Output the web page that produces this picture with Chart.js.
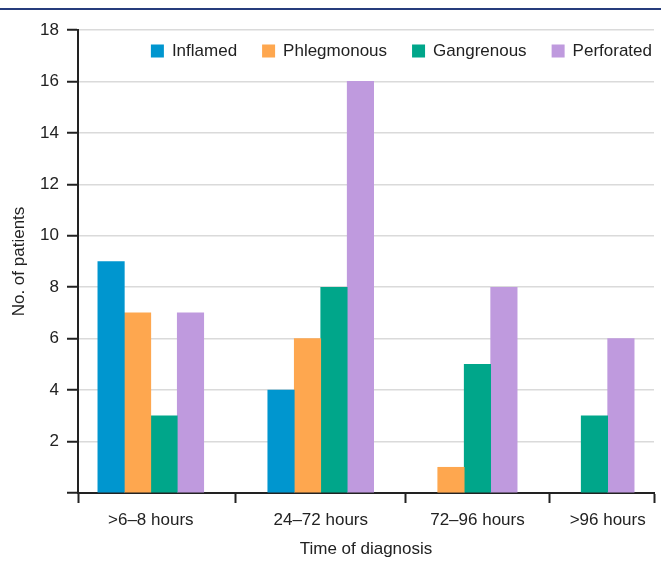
<!DOCTYPE html>
<html>
<head>
<meta charset="utf-8">
<script src="https://cdn.jsdelivr.net/npm/chart.js@4.4.1/dist/chart.umd.min.js"></script>
<style>
  body { margin: 0; background: #fff; }
  #wrap { position: relative; width: 661px; height: 561px; }
  #rule { position: absolute; left: 0; top: 8px; width: 661px; height: 2px; background: #263c7c; }
</style>
</head>
<body>
<div id="wrap">
  <canvas id="patientsChart" width="661" height="561"></canvas>
  <div id="rule"></div>
</div>
<script>
// Chart data
const categories = ['>6–8 hours', '24–72 hours', '72–96 hours', '>96 hours'];
const seriesNames = ['Inflamed', 'Phlegmonous', 'Gangrenous', 'Perforated'];
const inflamed = [9, 4, null, null];
const phlegmonous = [7, 6, 1, null];
const gangrenous = [3, 8, 5, 3];
const perforated = [7, 16, 8, 6];
const yTicks = [0, 2, 4, 6, 8, 10, 12, 14, 16, 18];

const colors = ['#0096cf', '#fea74f', '#00a68a', '#bf9ade'];
const textColor = '#222';

Chart.defaults.font.family = '"Liberation Sans", Arial, sans-serif';
Chart.defaults.font.size = 17;
Chart.defaults.color = textColor;

// Groups only take room for the bars they have (empty bars are skipped),
// so work out category centres and boundaries in "bar width" units
const series = [inflamed, phlegmonous, gangrenous, perforated];
const barCounts = categories.map((c, i) => series.filter(s => s[i] !== null).length);
const EDGE = 0.75;
const GAP = 2.42;
const centers = [];
const bounds = [0];
let pos = EDGE;
barCounts.forEach((n, i) => {
    centers.push(pos + n / 2);
    pos += n;
    if (i < barCounts.length - 1) {
        bounds.push(pos + GAP / 2);
        pos += GAP;
    }
});
pos += EDGE;
bounds.push(pos);

// boundary, centre, boundary, centre ... boundary
const xTicks = [];
bounds.forEach((b, i) => {
    xTicks.push(b);
    if (i < centers.length) xTicks.push(centers[i]);
});

const plotWidth = 661 - 78 - 7;
const barWidth = plotWidth / pos;

const datasets = series.map((values, k) => ({
    label: seriesNames[k],
    data: values.map((v, i) => ({ x: centers[i], y: v })),
    backgroundColor: colors[k],
    borderWidth: 0,
    barThickness: barWidth,
    skipNull: true
}));

// Legend sits inside the plot, top right
const insideLegend = {
    id: 'insideLegend',
    afterDraw(chart) {
        const { ctx, chartArea } = chart;
        const box = 13, gap = 8, pad = 25;
        ctx.save();
        ctx.font = '17px "Liberation Sans", Arial, sans-serif';
        ctx.textBaseline = 'middle';
        const items = chart.data.datasets.map(ds => ({
            text: ds.label,
            color: ds.backgroundColor,
            w: ctx.measureText(ds.label).width
        }));
        const total = items.reduce((s, it) => s + box + gap + it.w, 0) + pad * (items.length - 1);
        let x = chartArea.right - 2 - total;
        const y = chartArea.top + 21;
        items.forEach(it => {
            ctx.fillStyle = it.color;
            ctx.fillRect(x, y - box / 2, box, box);
            ctx.fillStyle = textColor;
            ctx.fillText(it.text, x + box + gap, y);
            x += box + gap + it.w + pad;
        });
        ctx.restore();
    }
};

new Chart(document.getElementById('patientsChart'), {
    type: 'bar',
    data: { datasets },
    plugins: [insideLegend],
    options: {
        responsive: false,
        animation: false,
        layout: { padding: { top: 30, right: 7, left: 0, bottom: 0 } },
        plugins: {
            legend: { display: false },
            tooltip: { enabled: false }
        },
        scales: {
            x: {
                type: 'linear',
                min: 0,
                max: pos,
                offset: false,
                afterBuildTicks: scale => {
                    scale.ticks = xTicks.map(v => ({ value: v }));
                },
                afterFit: scale => { scale.height = 68; },
                border: { display: true, color: textColor, width: 2 },
                grid: {
                    offset: false,
                    drawOnChartArea: false,
                    drawTicks: true,
                    tickLength: 10,
                    tickWidth: 2,
                    tickColor: ctx => ctx.index % 2 === 0 ? textColor : 'rgba(0,0,0,0)',
                    color: 'rgba(0,0,0,0)'
                },
                ticks: {
                    autoSkip: false,
                    maxRotation: 0,
                    minRotation: 0,
                    padding: 7,
                    callback: (v, i) => i % 2 === 1 ? categories[(i - 1) / 2] : ''
                },
                title: {
                    display: true,
                    text: 'Time of diagnosis',
                    padding: { top: 0, bottom: 1 }
                }
            },
            y: {
                min: 0,
                max: 18,
                afterBuildTicks: scale => {
                    scale.ticks = yTicks.map(v => ({ value: v }));
                },
                afterFit: scale => { scale.width = 78; },
                border: { display: true, color: textColor, width: 2 },
                grid: {
                    color: '#dadada',
                    lineWidth: 1.5,
                    tickColor: textColor,
                    tickLength: 11,
                    tickWidth: 2
                },
                ticks: {
                    padding: 8,
                    callback: v => v === 0 ? '' : v
                },
                title: {
                    display: true,
                    text: 'No. of patients',
                    padding: { top: 9, bottom: 0 }
                }
            }
        }
    }
});
</script>
</body>
</html>
